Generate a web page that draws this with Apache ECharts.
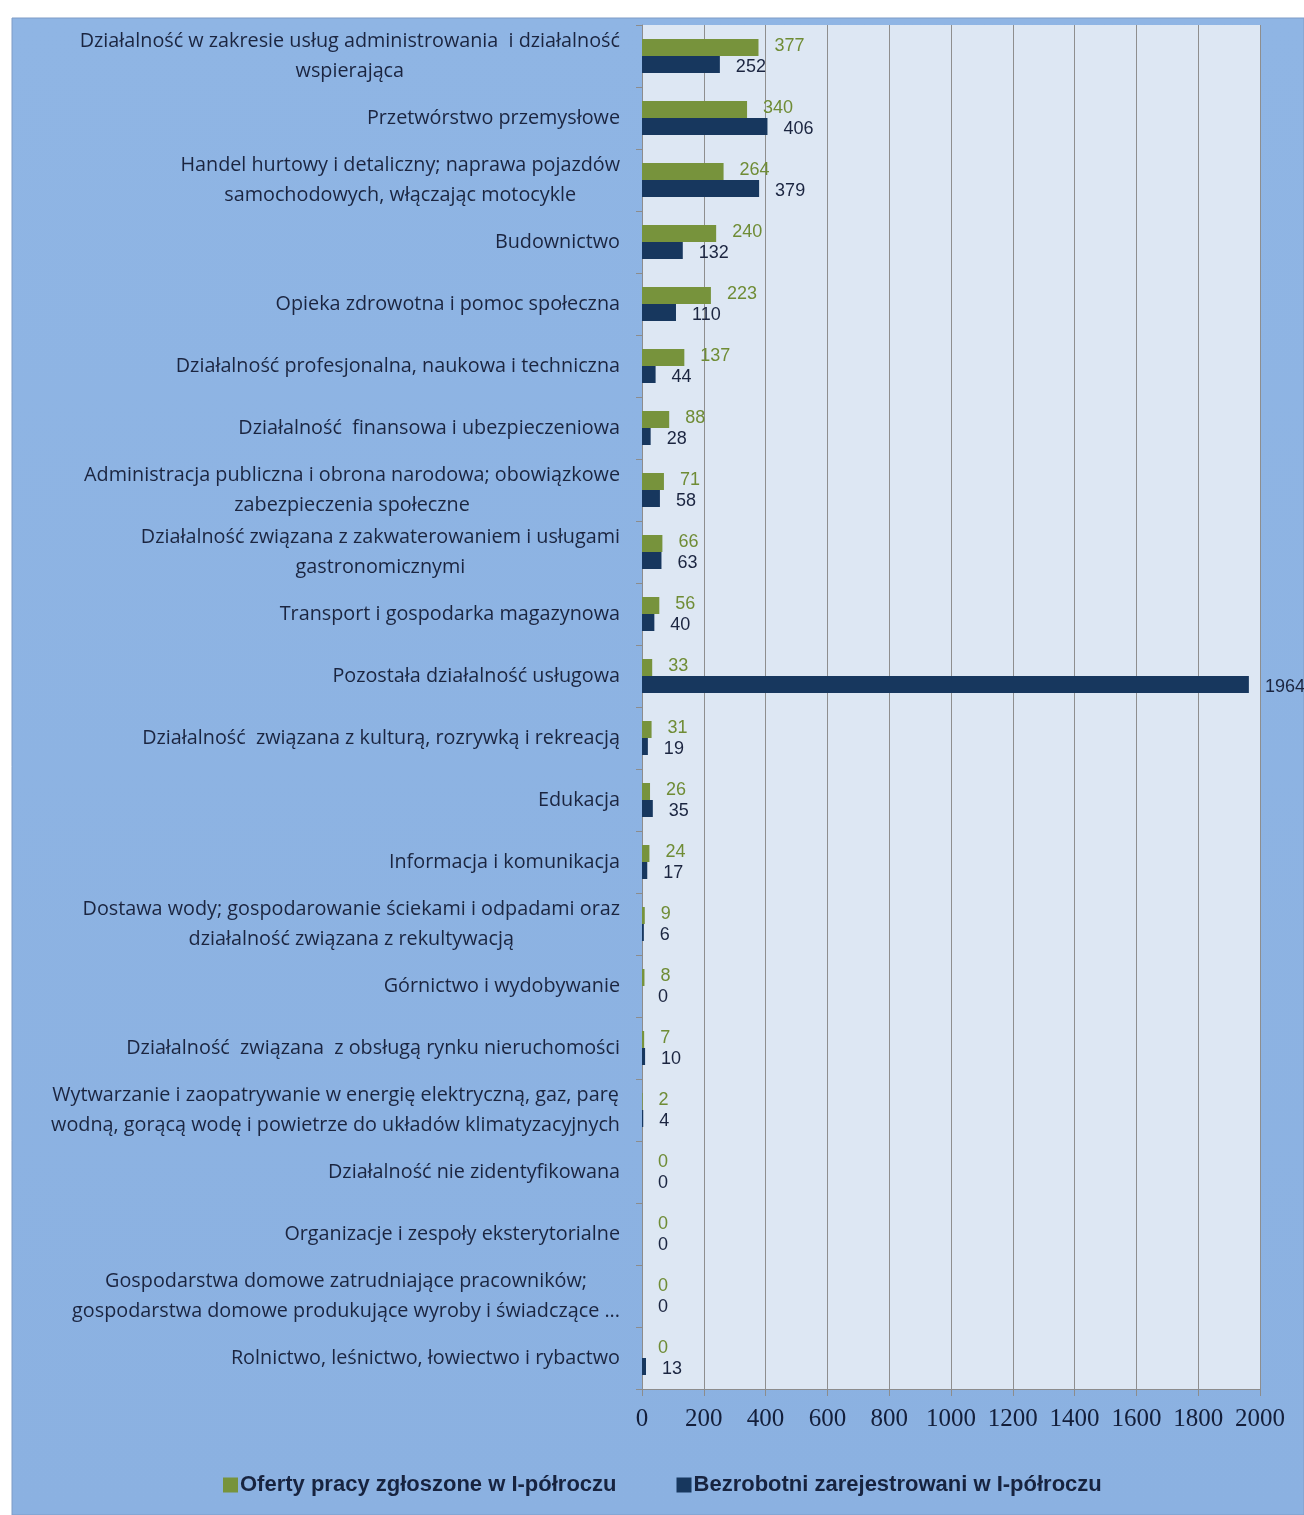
<!DOCTYPE html>
<html><head><meta charset="utf-8">
<script src="https://cdn.jsdelivr.net/npm/echarts@6/dist/echarts.min.js"></script>
<style>html,body{margin:0;padding:0;background:#fff}#c{width:1304px;height:1515px}</style>
</head><body><div id="c"></div>
<script>
var categories = [
  "Działalność w zakresie usług administrowania  i działalność\nwspierająca",
  "Przetwórstwo przemysłowe",
  "Handel hurtowy i detaliczny; naprawa pojazdów\nsamochodowych, włączając motocykle",
  "Budownictwo",
  "Opieka zdrowotna i pomoc społeczna",
  "Działalność profesjonalna, naukowa i techniczna",
  "Działalność  finansowa i ubezpieczeniowa",
  "Administracja publiczna i obrona narodowa; obowiązkowe\nzabezpieczenia społeczne",
  "Działalność związana z zakwaterowaniem i usługami\ngastronomicznymi",
  "Transport i gospodarka magazynowa",
  "Pozostała działalność usługowa",
  "Działalność  związana z kulturą, rozrywką i rekreacją",
  "Edukacja",
  "Informacja i komunikacja",
  "Dostawa wody; gospodarowanie ściekami i odpadami oraz\ndziałalność związana z rekultywacją",
  "Górnictwo i wydobywanie",
  "Działalność  związana  z obsługą rynku nieruchomości",
  "Wytwarzanie i zaopatrywanie w energię elektryczną, gaz, parę\nwodną, gorącą wodę i powietrze do układów klimatyzacyjnych",
  "Działalność nie zidentyfikowana",
  "Organizacje i zespoły eksterytorialne",
  "Gospodarstwa domowe zatrudniające pracowników;\ngospodarstwa domowe produkujące wyroby i świadczące ...",
  "Rolnictwo, leśnictwo, łowiectwo i rybactwo"
];
var offers = [377, 340, 264, 240, 223, 137, 88, 71, 66, 56, 33, 31, 26, 24, 9, 8, 7, 2, 0, 0, 0, 0];
var unemployed = [252, 406, 379, 132, 110, 44, 28, 58, 63, 40, 1964, 19, 35, 17, 6, 0, 10, 4, 0, 0, 0, 13];
var seriesNames = ["Oferty pracy zgłoszone w I-półroczu", "Bezrobotni zarejestrowani w I-półroczu"];
var xTicks = {min: 0, max: 2000, interval: 200};

var chart = echarts.init(document.getElementById('c'));
var sans = '"Liberation Sans", "DejaVu Sans", sans-serif';
var catFont = '"Open Sans", "Liberation Sans", sans-serif';
chart.setOption({
  backgroundColor: '#ffffff',
  animation: false,
  graphic: [{
    type: 'rect', z: -100, silent: true,
    shape: {x: 12, y: 18, width: 1292, height: 1497},
    style: {
      fill: new echarts.graphic.LinearGradient(0, 0, 0, 1, [
        {offset: 0, color: '#8FB5E4'}, {offset: 1, color: '#8BB1E1'}
      ]),
      stroke: '#7E9CC6', lineWidth: 1
    }
  }],
  grid: {
    left: 642, right: 44, top: 25, bottom: 126,
    show: true, backgroundColor: '#DDE7F3', borderWidth: 0
  },
  legend: {
    left: 218, top: 1469,
    itemWidth: 15, itemHeight: 15, itemGap: 60,
    icon: 'rect',
    textStyle: {fontFamily: sans, fontWeight: 'bold', fontSize: 22, color: '#17233F', padding: [0,0,0,-3]},
    data: seriesNames
  },
  xAxis: {
    type: 'value', min: xTicks.min, max: xTicks.max, interval: xTicks.interval,
    axisLine: {show: true, lineStyle: {color: '#8C8C8C', width: 1}},
    axisTick: {show: true, length: 7, lineStyle: {color: '#8C8C8C'}},
    splitLine: {show: true, lineStyle: {color: '#8E8E8E', width: 1}},
    axisLabel: {margin: 18, fontFamily: '"Liberation Serif", serif', fontSize: 25, color: '#131E3A',
      formatter: function (v) { return String(v); }}
  },
  yAxis: {
    type: 'category', inverse: true, data: categories,
    axisLine: {show: true, lineStyle: {color: '#8C8C8C', width: 1}},
    axisTick: {show: true, length: 6, lineStyle: {color: '#8C8C8C'}},
    axisLabel: {
      margin: 22, interval: 0,
      formatter: function (v) { return v.split('\n').map(function (s) { return '{a|' + s + '}'; }).join('\n'); },
      rich: {a: {align: 'center', fontFamily: catFont, fontSize: 19.8, lineHeight: 30, color: '#1B2540'}}
    }
  },
  series: [{
    name: seriesNames[0], type: 'bar', data: offers,
    barWidth: 17, barGap: '0%',
    itemStyle: {color: '#77933C'},
    label: {show: true, position: 'right', distance: 16, offset: [0, -1],
      fontFamily: sans, fontSize: 18, color: '#6F8C35'}
  }, {
    name: seriesNames[1], type: 'bar', data: unemployed,
    barWidth: 17, barGap: '0%',
    itemStyle: {color: '#17375E'},
    label: {show: true, position: 'right', distance: 16, offset: [0, 3],
      fontFamily: sans, fontSize: 18, color: '#1B2540'}
  }]
});
</script></body></html>
